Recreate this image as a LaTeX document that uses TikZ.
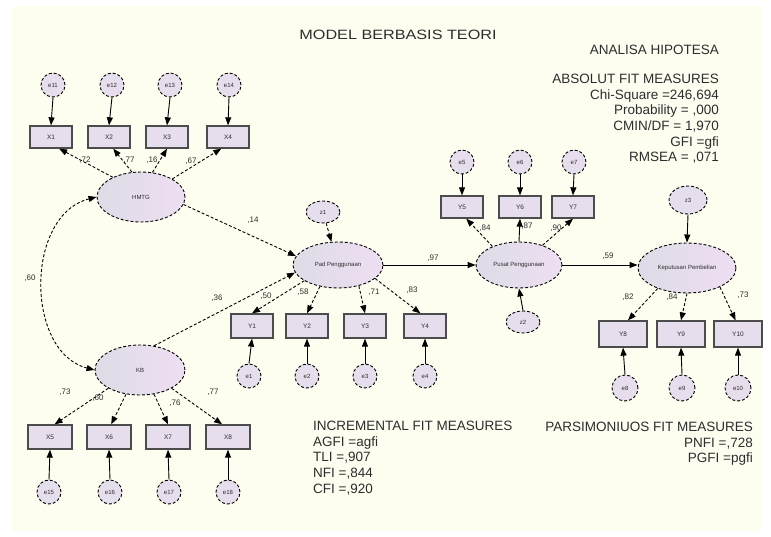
\documentclass[tikz,border=0pt]{standalone}
\usepackage{fontspec}
\setmainfont{Liberation Sans}
\usetikzlibrary{arrows.meta,shapes.geometric}
\definecolor{cream}{RGB}{253,253,240}
\definecolor{latA}{RGB}{222,220,230}
\definecolor{latB}{RGB}{238,222,242}
\definecolor{boxfill}{RGB}{230,222,236}
\definecolor{ink}{RGB}{45,45,45}
\begin{document}
\begin{tikzpicture}[x=1pt,y=-1pt,
  latent/.style={ellipse, draw=black, densely dashed, line width=0.9pt, left color=latA, right color=latB, inner sep=0pt, font=\fontsize{6}{7}\selectfont, text=ink},
  obs/.style={rectangle, draw=black!70, line width=1.3pt, fill=boxfill, inner sep=0pt, minimum width=42pt, minimum height=22pt, font=\fontsize{6.5}{7}\selectfont, text=ink},
  err/.style={circle, draw=black, densely dashed, line width=0.9pt, fill=boxfill, inner sep=0pt, minimum size=24pt, font=\fontsize{6}{7}\selectfont, text=ink},
  dist/.style={ellipse, draw=black, densely dashed, line width=0.9pt, fill=boxfill, inner sep=0pt, minimum width=34pt, minimum height=22pt, font=\fontsize{6}{7}\selectfont, text=ink},
  load/.style={densely dashed, line width=0.9pt, -{Triangle[length=8pt,width=6pt]}},
  sarr/.style={line width=0.9pt, -{Triangle[length=8pt,width=6pt]}},
  coef/.style={font=\fontsize{8}{9}\selectfont, text=ink, inner sep=0pt},
  fit/.style={font=\fontsize{13.5}{15.6}\selectfont, text=ink, inner sep=0pt}
]
\fill[white] (0,0) rectangle (771,537);
\fill[cream] (12,6) rectangle (762,531);
\useasboundingbox (0,0) rectangle (771,537);

% title and fit texts
\node[fit, anchor=center] (title) at (398,35) {\scalebox{1.2}[1]{MODEL BERBASIS TEORI}};
\node[fit, anchor=north east] (hip) at (719,45) {ANALISA HIPOTESA};
\node[fit, anchor=north east, align=right] (abs) at (719,74)
  {ABSOLUT FIT MEASURES\\Chi-Square =246,694\\Probability = ,000\\CMIN/DF = 1,970\\GFI =gfi\\RMSEA = ,071};
\node[fit, anchor=north west, align=left] (inc) at (313,421)
  {INCREMENTAL FIT MEASURES\\AGFI =agfi\\TLI =,907\\NFI =,844\\CFI =,920};
\node[fit, anchor=north east, align=right] (par) at (753,422)
  {PARSIMONIUOS FIT MEASURES\\PNFI =,728\\PGFI =pgfi};

% latent variables
\node[latent, minimum width=88pt, minimum height=50pt] (mutu) at (141,197) {HMTG};
\node[latent, minimum width=90pt, minimum height=50pt] (kb) at (140,370) {KB};
\node[latent, minimum width=90pt, minimum height=46pt] (pad) at (338,265) {Pad Penggunaan};
\node[latent, minimum width=86pt, minimum height=46pt] (mid) at (519,265) {Pusat Penggunaan};
\node[latent, minimum width=98pt, minimum height=50pt] (rgt) at (687,268) {Keputusan Pembelian};

% disturbances
\node[dist] (z1) at (323,212) {z1};
\node[dist] (z2) at (523,322) {z2};
\node[dist, minimum width=38pt, minimum height=28pt] (z3) at (688,200) {z3};

% top X
\node[obs] (x1) at (51,137) {X1};
\node[obs] (x2) at (109,137) {X2};
\node[obs] (x3) at (167,137) {X3};
\node[obs] (x4) at (228,137) {X4};
\node[err] (ex1) at (53,85) {e11};
\node[err] (ex2) at (112,85) {e12};
\node[err] (ex3) at (170,85) {e13};
\node[err] (ex4) at (229,85) {e14};

% bottom X
\node[obs, minimum width=44pt, minimum height=24pt] (x5) at (50,437) {X5};
\node[obs, minimum width=44pt, minimum height=24pt] (x6) at (109,437) {X6};
\node[obs, minimum width=44pt, minimum height=24pt] (x7) at (168,437) {X7};
\node[obs, minimum width=44pt, minimum height=24pt] (x8) at (228,437) {X8};
\node[err] (ex5) at (49,492) {e15};
\node[err] (ex6) at (110,492) {e16};
\node[err] (ex7) at (169,492) {e17};
\node[err] (ex8) at (228,492) {e18};

% Y1-Y4
\node[obs, minimum height=24pt] (y1) at (252,326) {Y1};
\node[obs, minimum height=24pt] (y2) at (307,326) {Y2};
\node[obs, minimum height=24pt] (y3) at (365,326) {Y3};
\node[obs, minimum height=24pt] (y4) at (425,326) {Y4};
\node[err] (e1) at (249,376) {e1};
\node[err] (e2) at (307,376) {e2};
\node[err] (e3) at (365,376) {e3};
\node[err] (e4) at (425,376) {e4};

% Y5-Y7
\node[obs] (y5) at (462,207) {Y5};
\node[obs] (y6) at (520,207) {Y6};
\node[obs] (y7) at (573,207) {Y7};
\node[err] (e5) at (462,162) {e5};
\node[err] (e6) at (520,162) {e6};
\node[err] (e7) at (574,162) {e7};

% Y8-Y10
\node[obs, minimum width=48pt, minimum height=26pt] (y8) at (623,334) {Y8};
\node[obs, minimum width=48pt, minimum height=26pt] (y9) at (681,334) {Y9};
\node[obs, minimum width=48pt, minimum height=26pt] (y10) at (738,334) {Y10};
\node[err, minimum size=26pt] (e8) at (625,388) {e8};
\node[err, minimum size=26pt] (e9) at (682,388) {e9};
\node[err, minimum size=26pt] (e10) at (738,388) {e10};

% error arrows
\foreach \e/\b in {ex1/x1,ex2/x2,ex3/x3,ex4/x4,e5/y5,e6/y6,e7/y7}
  \draw[sarr] (\e.south) -- (\b.north);
\foreach \e/\b in {ex5/x5,ex6/x6,ex7/x7,ex8/x8,e1/y1,e2/y2,e3/y3,e4/y4,e8/y8,e9/y9,e10/y10}
  \draw[sarr] (\e.north) -- (\b.south);
\draw[load] (z1) -- (pad);
\draw[sarr] (z2.north) -- (mid.south);
\draw[sarr] (z3.south) -- (rgt.north);

% loadings
\draw[load] (mutu.145) -- (x1.-55);
\draw[load] (mutu.110) -- (x2.-70);
\draw[load] (mutu.65) -- (x3.south);
\draw[load] (mutu.30) -- (x4.-120);
\draw[load] (kb.210) -- (x5.70);
\draw[load] (kb.240) -- (x6.80);
\draw[load] (kb.300) -- (x7.north);
\draw[load] (kb.330) -- (x8.115);
\draw[load] (pad.205) -- (y1.north);
\draw[load] (pad.230) -- (y2.north);
\draw[load] (pad.315) -- (y3.north);
\draw[load] (pad.340) -- (y4.110);
\draw[load] (mid.145) -- (y5.-70);
\draw[sarr] (mid.north) -- (y6.south);
\draw[load] (mid.40) -- (y7.south);
\draw[load] (rgt.215) -- (y8.70);
\draw[load] (rgt.south) -- (y9.north);
\draw[load] (rgt.330) -- (y10.100);

% structural paths
\draw[load] (mutu.350) -- (pad.168);
\draw[load] (kb.60) -- (pad.190);
\draw[sarr] (pad.east) -- (mid.west);
\draw[sarr] (mid.east) -- (mid.east -| rgt.west);
\draw[densely dashed, line width=0.9pt, {Triangle[length=8pt,width=6pt]}-{Triangle[length=8pt,width=6pt]}]
  (mutu.west) .. controls (25,215) and (25,352) .. (kb.west);

% coefficients
\node[coef] (c1) at (85,160) {,72};
\node[coef] (c2) at (129,160) {,77};
\node[coef] (c3) at (152,160) {,16};
\node[coef] (c4) at (191,161) {,67};
\node[coef] (c5) at (253,220) {,14};
\node[coef] (c6) at (30,278) {,60};
\node[coef] (c7) at (217,298) {,36};
\node[coef] (c8) at (266,296) {,50};
\node[coef] (c9) at (303,292) {,58};
\node[coef] (c10) at (374,292) {,71};
\node[coef] (c11) at (412,290) {,83};
\node[coef] (c12) at (433,258) {,97};
\node[coef] (c13) at (485,228) {,84};
\node[coef] (c14) at (527,226) {,87};
\node[coef] (c15) at (556,228) {,90};
\node[coef] (c16) at (608,256) {,59};
\node[coef] (c17) at (628,297) {,82};
\node[coef] (c18) at (672,297) {,84};
\node[coef] (c19) at (743,295) {,73};
\node[coef] (c20) at (65,392) {,73};
\node[coef] (c21) at (98,398) {,60};
\node[coef] (c22) at (175,403) {,76};
\node[coef] (c23) at (213,392) {,77};
\end{tikzpicture}
\end{document}
